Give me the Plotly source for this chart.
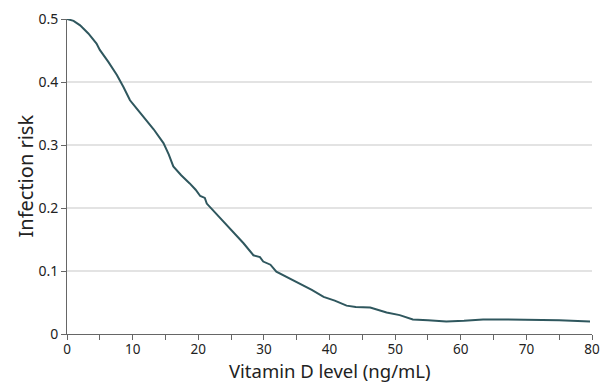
import plotly.graph_objects as go

vitamin_d = [0, 1, 2, 3.25, 4.5, 5, 6.3, 7.6, 8.6, 9.6, 10.6, 11.6, 13.2, 14.7, 15.5, 16.2, 17.4, 18.7, 19.6,
             20.3, 21, 21.3, 22.3, 23.3, 24.8, 25.9, 26.9, 28.4, 29.4, 29.9, 31, 31.9, 34, 35.5, 37.3,
             39.1, 40.8, 42.6, 44, 46.2, 47.5, 48.7, 50.7, 52.7, 55, 57.8, 60.5, 63.4, 67, 71, 75, 79.7]
risk = [0.500, 0.497, 0.490, 0.477, 0.461, 0.451, 0.432, 0.411, 0.392, 0.371, 0.358, 0.345, 0.325, 0.303, 0.285,
        0.266, 0.252, 0.239, 0.229, 0.219, 0.216, 0.207, 0.196, 0.184, 0.168, 0.156, 0.144, 0.125, 0.122, 0.115,
        0.110, 0.099, 0.088, 0.080, 0.070, 0.059, 0.053, 0.045, 0.043, 0.042, 0.038, 0.034, 0.030, 0.023, 0.022,
        0.020, 0.021, 0.023, 0.023, 0.023, 0.022, 0.020]

x_ticks = [0, 10, 20, 30, 40, 50, 60, 70, 80]
y_ticks = [0, 0.1, 0.2, 0.3, 0.4, 0.5]
y_labels = ["0", "0.1", "0.2", "0.3", "0.4", "0.5"]
x_title = "Vitamin D level (ng/mL)"
y_title = "Infection risk"

fig = go.Figure()
fig.add_trace(go.Scatter(x=vitamin_d, y=risk, mode="lines",
                         line=dict(color="#2f575e", width=2), showlegend=False))

font_family = "Noto Sans, Open Sans, sans-serif"
fig.update_layout(
    width=601, height=384,
    margin=dict(l=67, r=9, t=19, b=50),
    paper_bgcolor="white", plot_bgcolor="white",
    font=dict(family=font_family, color="#222222", size=14),
    xaxis=dict(range=[0, 80], tickvals=x_ticks, ticks="outside", ticklen=5,
               tickcolor="#666666", showline=True, linecolor="#666666", linewidth=1,
               showgrid=False, zeroline=False, automargin=False, ticklabelstandoff=-2,
               minor=dict(dtick=5, tick0=0, ticks="outside", ticklen=5, tickcolor="#666666", showgrid=False),
               tickfont=dict(size=13.5)),
    yaxis=dict(range=[0, 0.5], tickvals=y_ticks, ticktext=y_labels, ticks="outside", ticklen=5,
               tickcolor="#666666", showline=True, linecolor="#666666", linewidth=1,
               showgrid=True, gridcolor="#e3e3e3", gridwidth=1.5, zeroline=False, automargin=False,
               tickfont=dict(size=14)),
    annotations=[
        dict(text=x_title, xref="paper", yref="paper", x=0.5, y=-0.117,
             xanchor="center", yanchor="middle", showarrow=False, font=dict(size=18.5)),
        dict(text=y_title, xref="paper", yref="paper", x=-0.08, y=0.5, textangle=-90,
             xanchor="center", yanchor="middle", showarrow=False, font=dict(size=20)),
    ],
)
fig.write_html("out.html")
